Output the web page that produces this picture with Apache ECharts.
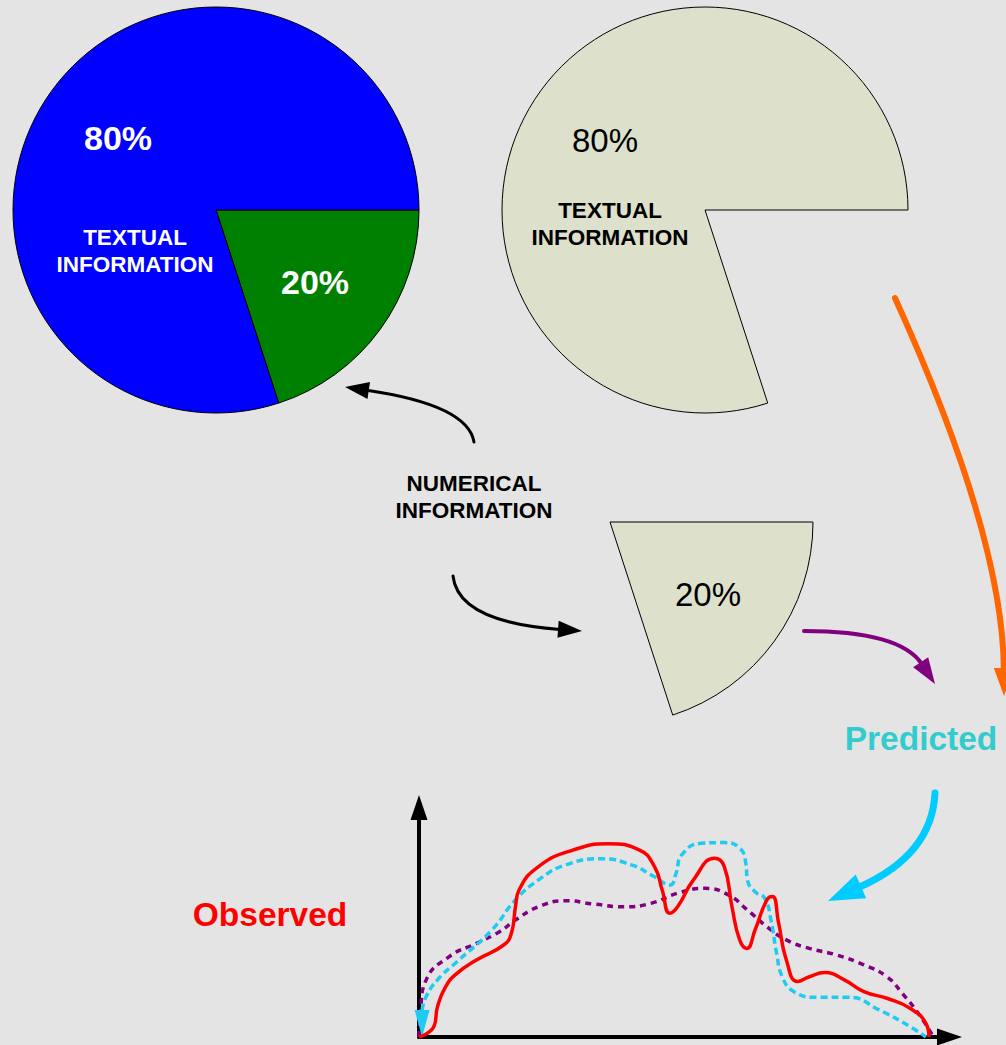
<!DOCTYPE html>
<html>
<head>
<meta charset="utf-8">
<script src="https://cdn.jsdelivr.net/npm/echarts@6/dist/echarts.min.js"></script>
<style>
html,body{margin:0;padding:0;background:#e4e4e4;}
#chart{width:1006px;height:1045px;}
</style>
</head>
<body>
<div id="chart"></div>
<script>
// ---- data ----
const sliceNames = ['NUMERICAL INFORMATION', 'TEXTUAL INFORMATION'];
const sliceValues = [20, 80];            // percent
const textualLabel = ['TEXTUAL', 'INFORMATION'];
const numericalLabel = ['NUMERICAL', 'INFORMATION'];
const observedName = 'Observed';
const predictedName = 'Predicted';

// curves: [x (0..100 along time axis), y (0..100 height)]
const observed = [
  [0,0],[2.9,4.3],[3.6,12.5],[5.2,20.8],[7.4,26.3],[11.2,31.8],[16.5,38.0],[18.0,42.8],
  [18.8,53.8],[19.5,60.7],[23.3,70.4],[30.1,77.3],[36.9,79.8],[42.9,77.3],[45.9,70.4],
  [47.4,60.7],[48.9,51.1],[50.4,53.8],[53.5,64.9],[57.6,73.8],[59.5,70.4],[61.0,53.8],
  [62.5,40.1],[63.9,36.6],[65.5,44.2],[67.8,56.6],[68.9,58.0],[70.1,47.0],[71.6,31.8],
  [73.8,22.9],[76.1,24.9],[79.1,26.6],[82.9,23.6],[86.7,18.7],[91.2,16.0],[95.7,11.9],
  [98.8,5.6],[99.4,0]
];
const predicted = [
  [0.6,11],[1.4,16.7],[3.6,23.6],[7.4,31.1],[14.2,44.2],[18.8,56.6],[23.3,64.9],[28.6,71.1],
  [35.4,73.6],[41.4,71.1],[45.9,66.2],[48.9,62.8],[50.1,67.6],[51.2,75.2],[55.0,80.0],
  [59.5,80.3],[62.5,78.0],[63.7,71.8],[64.0,64.9],[65.5,60.0],[67.4,57.3],[68.6,48.3],
  [69.7,34.6],[70.8,24.9],[73.1,18.7],[77.6,16.4],[83.7,16.4],[89.7,11.2],[95.7,4.3],[98.8,0]
];
const trend = [
  [0,0],[0.3,11.2],[1.4,23.6],[5.9,33.2],[11.2,38.7],[15.7,43.5],[18.8,48.3],[23.3,53.8],
  [28.6,56.3],[33.8,55.0],[39.9,53.8],[45.2,55.2],[50.4,59.4],[55.7,61.4],[60.3,58.7],
  [64.0,52.5],[67.8,45.6],[71.6,40.1],[76.1,36.6],[81.4,33.9],[86.7,29.8],[91.2,24.9],
  [94.2,18.0],[97.3,9.8],[100.3,0]
];

// ---- helpers for decorative arrows ----
function arrow(p0, c, tip, color, lw, headLen, headW) {
  const dx = tip[0] - c[0], dy = tip[1] - c[1];
  const L = Math.hypot(dx, dy), ux = dx / L, uy = dy / L;
  const bx = tip[0] - ux * headLen, by = tip[1] - uy * headLen;
  const nx = -uy, ny = ux;
  return [
    { type: 'bezierCurve', silent: true,
      shape: { x1: p0[0], y1: p0[1], cpx1: c[0], cpy1: c[1], x2: bx + ux * 2, y2: by + uy * 2 },
      style: { stroke: color, lineWidth: lw, fill: 'none', lineCap: 'round' } },
    { type: 'polygon', silent: true,
      shape: { points: [tip, [bx + nx * headW / 2, by + ny * headW / 2], [bx - nx * headW / 2, by - ny * headW / 2]] },
      style: { fill: color } }
  ];
}
function txt(x, y, text, font, color, lh) {
  return { type: 'text', x: x, y: y, silent: true, z: 50,
    style: { text: text, font: font, fill: color, align: 'center', verticalAlign: 'middle', lineHeight: lh || 27 } };
}
const FONT = '"Liberation Sans", Arial, sans-serif';
const beige = '#dde1cb';
const clear = { color: 'rgba(0,0,0,0)', borderWidth: 0 };
const edge = { borderColor: '#000', borderWidth: 1 };

const chart = echarts.init(document.getElementById('chart'), null, { renderer: 'svg' });

const graphics = [].concat(
  arrow([474, 442], [468, 405], [345, 387], '#000', 3, 24, 17),
  arrow([453, 576], [458, 622], [582, 631], '#000', 3, 24, 17),
  arrow([895, 298], [1003, 536], [1004, 696], '#ff6600', 6, 28, 20),
  arrow([804, 631], [900, 631], [935, 684], '#800080', 4, 26, 18),
  arrow([935, 793], [932, 855], [828, 901], '#00ccff', 7, 36, 26),
  [
    txt(118, 138, sliceValues[1] + '%', 'bold 34px ' + FONT, '#fff'),
    txt(135, 251, textualLabel.join('\n'), 'bold 22.5px ' + FONT, '#fff'),
    txt(315, 282, sliceValues[0] + '%', 'bold 34px ' + FONT, '#fff'),
    txt(605, 140, sliceValues[1] + '%', '33px ' + FONT, '#000'),
    txt(610, 224, textualLabel.join('\n'), 'bold 22.5px ' + FONT, '#000'),
    txt(708, 594, sliceValues[0] + '%', '33px ' + FONT, '#000'),
    txt(474, 497, numericalLabel.join('\n'), 'bold 22.5px ' + FONT, '#000'),
    txt(921, 738, predictedName, 'bold 33.5px ' + FONT, '#33cccc'),
    txt(270, 914, observedName, 'bold 33.5px ' + FONT, '#ff0000')
  ]
);

function pie(center, styles) {
  return {
    type: 'pie', center: center, radius: 203, startAngle: 0, clockwise: true,
    silent: true, label: { show: false }, labelLine: { show: false },
    emphasis: { disabled: true }, animation: false,
    data: sliceValues.map((v, i) => ({ name: sliceNames[i], value: v, itemStyle: styles[i] }))
  };
}

chart.setOption({
  backgroundColor: '#e4e4e4',
  animation: false,
  grid: { left: 419, top: 807.5, right: 56.5, bottom: 8, containLabel: false, outerBoundsMode: 'none' },
  xAxis: {
    type: 'value', min: 0, max: 103.4,
    axisLine: { show: true, lineStyle: { color: '#000', width: 4 }, symbol: ['none', 'triangle'], symbolSize: [17, 25] },
    axisTick: { show: false }, axisLabel: { show: false }, splitLine: { show: false }
  },
  yAxis: {
    type: 'value', min: 0, max: 94.8,
    axisLine: { show: true, lineStyle: { color: '#000', width: 4 }, symbol: ['none', 'triangle'], symbolSize: [17, 25] },
    axisTick: { show: false }, axisLabel: { show: false }, splitLine: { show: false }
  },
  series: [
    pie([216, 210], [Object.assign({ color: '#008000' }, edge), Object.assign({ color: '#0000ff' }, edge)]),
    pie([705, 210], [clear, Object.assign({ color: beige }, edge)]),
    pie([610, 522], [Object.assign({ color: beige }, edge), clear]),
    { type: 'line', name: 'Trend', data: trend, smooth: 0.5, showSymbol: false, silent: true,
      lineStyle: { color: '#800080', width: 3.5, type: [6, 5] }, z: 3 },
    { type: 'line', name: predictedName, data: predicted, smooth: 0.5, showSymbol: false, silent: true,
      lineStyle: { color: '#1ecbf2', width: 3.5, type: [7, 4] }, z: 4,
      markPoint: { silent: true, animation: false,
        data: [{ coord: [0.6, 0], symbol: 'path://M0,0L10,0L5,18Z', symbolSize: [15, 27], symbolOffset: [0, '-50%'],
                 itemStyle: { color: '#1ecbf2' }, label: { show: false } }] } },
    { type: 'line', name: observedName, data: observed, smooth: 0.5, showSymbol: false, silent: true,
      lineStyle: { color: '#ff0000', width: 3.5 }, z: 5 }
  ],
  graphic: { elements: graphics }
});
</script>
</body>
</html>
